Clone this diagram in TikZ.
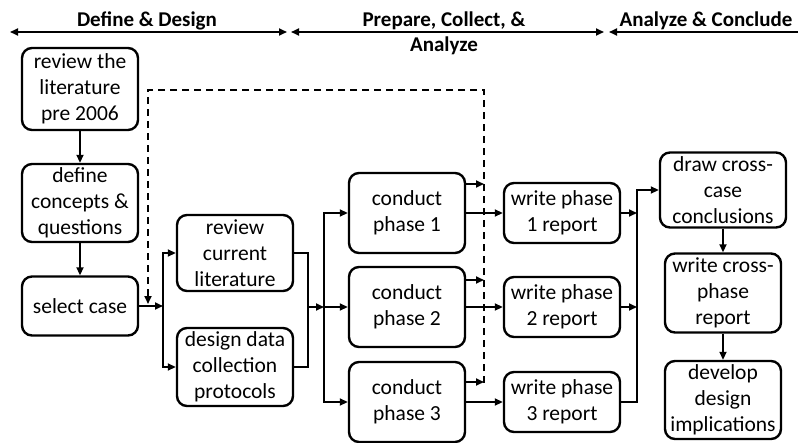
\documentclass[tikz,border=0pt]{standalone}
\usepackage{fontspec}
\setmainfont{Carlito}
\usetikzlibrary{arrows.meta}

\begin{document}
\begin{tikzpicture}[x=1pt, y=-1pt,
    box/.style={draw, line width=2.4pt, rounded corners=10pt, align=center, inner sep=0pt,
      font=\fontsize{21.5}{26}\selectfont, minimum width=116pt},
    conn/.style={line width=1.8pt, -{Triangle[length=8pt, width=7pt]}},
    link/.style={line width=1.8pt},
    span/.style={line width=1.8pt, {Triangle[length=8pt, width=7pt]}-{Triangle[length=8pt, width=7pt]}},
    head/.style={font=\bfseries\fontsize{21}{25}\selectfont, align=center, inner sep=0pt, anchor=north}]
    \useasboundingbox (0,0) rectangle (798,442);

    % stage headers
    \node[head] (define) at (147,12) {Define \& Design};
    \node[head] (prepare) at (444,12) {Prepare, Collect, \&\\Analyze};
    \node[head] (conclude) at (706,12) {Analyze \& Conclude};
    \coordinate (d1) at (10,32);  \coordinate (d2) at (287,32);
    \coordinate (p1) at (291,32); \coordinate (p2) at (604,32);
    \coordinate (c1) at (609,32); \coordinate (c2) at (798,32);
    \draw[span] (d1) -- (d2);
    \draw[span] (p1) -- (p2);
    \draw[line width=1.8pt, {Triangle[length=8pt, width=7pt]}-] (c1) -- (c2);

    % define & design
    \node[box, minimum height=82pt] (litold) at (80,89) {review the\\literature\\pre 2006};
    \node[box, minimum height=78pt] (concepts) at (80,203) {define\\concepts \&\\questions};
    \node[box, minimum height=59pt] (select) at (80,306) {select case};
    \node[box, minimum height=76pt] (litcur) at (235,253) {review\\current\\literature};
    \node[box, minimum height=78pt] (protocols) at (235,367) {design data\\collection\\protocols};

    \draw[conn] (litold) -- (concepts);
    \draw[conn] (concepts) -- (select);
    \coordinate (split1) at (163,306);
    \draw[conn] (select) -- (split1);
    \draw[conn] (split1) |- (litcur.west);
    \draw[conn] (split1) |- (protocols.west);

    \coordinate (merge1) at (308,307);
    \coordinate (split2) at (324,307);
    \draw[link] (litcur.east) -| (merge1) |- (protocols.east);
    \draw[conn] (merge1) -- (split2);

    % feedback loop
    \coordinate (loop1) at (484,383);
    \coordinate (loop2) at (484,90);
    \coordinate (loop3) at (148,90);
    \coordinate (loop4) at (148,304);
    \draw[conn, dash pattern=on 7pt off 5pt] (loop1) -- (loop2) -- (loop3) -- (loop4);

    % phases
    \foreach \i/\y/\s in {1/213/29, 2/307/27, 3/402/20} {
      \node[box, minimum height=80pt] (cond\i) at (407,\y) {conduct\\phase \i};
      \node[box, minimum height=60pt] (rep\i) at (562,\y) {write phase\\\i{} report};
      \draw[conn] (split2) |- (cond\i.west);
      \draw[conn] (cond\i) -- (rep\i);
      \draw[conn] ([yshift=\s pt]cond\i.east) -- ([yshift=\s pt]cond\i.east -| loop1);
    }

    % analyze & conclude
    \node[box, minimum width=126pt, minimum height=75pt] (crosscase) at (723,190) {draw cross-\\case\\conclusions};
    \node[box, minimum height=79pt] (crossphase) at (723,293) {write cross-\\phase\\report};
    \node[box, minimum height=78pt] (implic) at (723,400) {develop\\design\\implications};

    \coordinate (merge3) at (637,190);
    \draw[conn] (rep3.east) -| (merge3) -- (crosscase.west);
    \draw[conn] (rep1.east) -- (rep1.east -| merge3);
    \draw[conn] (rep2.east) -- (rep2.east -| merge3);
    \draw[conn] (crosscase) -- (crossphase);
    \draw[conn] (crossphase) -- (implic);
\end{tikzpicture}
\end{document}
